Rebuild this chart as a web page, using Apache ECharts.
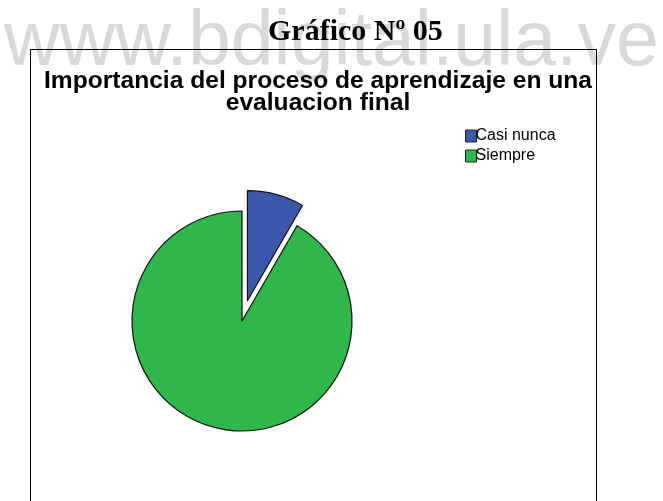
<!DOCTYPE html>
<html>
<head>
<meta charset="utf-8">
<script src="https://cdn.jsdelivr.net/npm/echarts@6/dist/echarts.min.js"></script>
<style>
  html, body { margin: 0; padding: 0; background: #fff; }
  #chart { width: 663px; height: 501px; }
</style>
</head>
<body>
<div id="chart"></div>
<script>
// valores
var categorias = ["Casi nunca", "Siempre"];
var frecuencias = [2, 22];
var colores = ["#3d57ab", "#2fb74b"];

var chart = echarts.init(document.getElementById("chart"));

var pieData = [];
for (var i = 0; i < categorias.length; i++) {
    pieData.push({
        name: categorias[i],
        value: frecuencias[i],
        selected: i == 0,
        itemStyle: { color: colores[i] }
    });
}

var option = {
    backgroundColor: "#fff",
    animation: false,
    title: {
        text: "Importancia del proceso de aprendizaje en una\nevaluacion final",
        left: 313,
        top: 65,
        textAlign: "center",
        textStyle: {
            fontFamily: "Liberation Sans",
            fontSize: 24.6,
            fontWeight: "bold",
            color: "#000",
            lineHeight: 22
        }
    },
    legend: {
        orient: "vertical",
        left: 460,
        top: 123,
        itemWidth: 11,
        itemHeight: 12,
        itemGap: 4,
        selectedMode: false,
        icon: "rect",
        itemStyle: { borderColor: "#222", borderWidth: 1 },
        textStyle: {
            fontFamily: "Liberation Sans",
            fontSize: 16,
            color: "#000",
            padding: [0, 0, 0, -6]
        },
        data: categorias
    },
    graphic: [
        {
            type: "text",
            z: -10,
            left: 4,
            top: 5,
            style: {
                text: "www.bdigital.ula.ve",
                font: "77px 'Liberation Sans'",
                fill: "#d9d9d9"
            }
        },
        {
            type: "rect",
            z: -5,
            shape: { x: 30.5, y: 49.5, width: 566, height: 470 },
            style: { fill: null, stroke: "#000", lineWidth: 1 }
        },
        {
            type: "text",
            z: 10,
            left: 268,
            top: 17,
            style: {
                text: "Gráfico Nº 05",
                font: "bold 30px 'Liberation Serif'",
                fill: "#000"
            }
        }
    ],
    series: [{
        type: "pie",
        center: [242, 321],
        radius: 110,
        startAngle: 90,
        clockwise: true,
        selectedMode: "single",
        selectedOffset: 21,
        label: { show: false },
        labelLine: { show: false },
        emphasis: { disabled: true },
        itemStyle: { borderColor: "#111", borderWidth: 1.2 },
        data: pieData
    }]
};

chart.setOption(option);
</script>
</body>
</html>
